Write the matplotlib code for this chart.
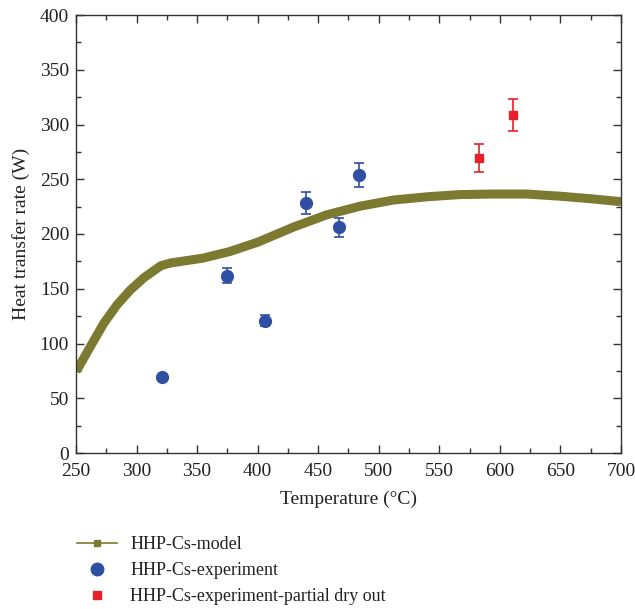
import matplotlib
matplotlib.use("Agg")
import matplotlib.pyplot as plt
from matplotlib.lines import Line2D
from matplotlib.ticker import MultipleLocator

plt.rcParams['font.family'] = ['Liberation Serif', 'DejaVu Serif']

# Model curve
model_T = [250, 252, 262, 273, 284, 295, 306, 320, 328, 355, 377, 400, 430, 457, 485,
           512, 540, 567, 595, 622, 650, 677, 700]
model_Q = [75, 78, 97.5, 118.5, 135.5, 149, 160, 171, 173.5, 178, 184, 192.5, 206.5, 217.5, 225.5,
           231, 234, 236, 236.5, 236.5, 234.5, 232, 229.5]

# Experiment
exp_T = [321, 375, 406, 440, 467, 484]
exp_Q = [69, 162, 121, 228, 206, 254]
exp_err = [0, 7, 5, 10, 9, 11]

# Experiment - partial dry out
dry_T = [583, 611]
dry_Q = [269.5, 308.5]
dry_err = [12.5, 14.5]

olive = '#7b7a30'
blue = '#2f4fa2'
red = '#e8202a'

fig = plt.figure(figsize=(6.35, 6.09), dpi=100)
ax = fig.add_axes([76/635, 1-453/609, (621-76)/635, (453-15)/609])

ax.plot(model_T, model_Q, color=olive, lw=6.5, solid_capstyle='butt',
        solid_joinstyle='round', zorder=2)
ax.errorbar(exp_T, exp_Q, yerr=exp_err, fmt='o', color=blue, ms=8.5, elinewidth=1.2,
            capsize=3.5, capthick=1.2, zorder=3)
ax.errorbar(dry_T, dry_Q, yerr=dry_err, fmt='s', color=red, ms=6, elinewidth=1.2,
            capsize=3.5, capthick=1.2, zorder=3)

ax.set_xlim(250, 700)
ax.set_ylim(0, 400)
ax.xaxis.set_major_locator(MultipleLocator(50))
ax.xaxis.set_minor_locator(MultipleLocator(25))
ax.yaxis.set_major_locator(MultipleLocator(50))
ax.yaxis.set_minor_locator(MultipleLocator(25))
ax.tick_params(which='both', direction='in', top=True, right=True, labelsize=14,
               color='#333333', labelcolor='#222222')
ax.tick_params(which='major', length=6, width=1)
ax.tick_params(which='minor', length=3.5, width=1)
ax.tick_params(axis='x', which='major', pad=7)
ax.tick_params(axis='y', which='major', pad=5)
for s in ax.spines.values():
    s.set_color('#333333')
    s.set_linewidth(1)

ax.set_xlabel('Temperature (°C)', fontsize=14, color='#222222', labelpad=8)
ax.set_ylabel('Heat transfer rate (W)', fontsize=14, color='#222222', labelpad=7)

handles = [
    Line2D([], [], color=olive, lw=1.2, marker='s', ms=5),
    Line2D([], [], color=blue, lw=0, marker='o', ms=9),
    Line2D([], [], color=red, lw=0, marker='s', ms=6),
]
labels = ['HHP-Cs-model', 'HHP-Cs-experiment', 'HHP-Cs-experiment-partial dry out']
fig.legend(handles, labels, loc='upper left', bbox_to_anchor=(77/635, 1-536/609),
           frameon=False, fontsize=13, handlelength=2.2, handletextpad=0.75,
           labelspacing=0.5, borderaxespad=0, borderpad=0, labelcolor='#222222')

fig.savefig('out.png', dpi=100)
